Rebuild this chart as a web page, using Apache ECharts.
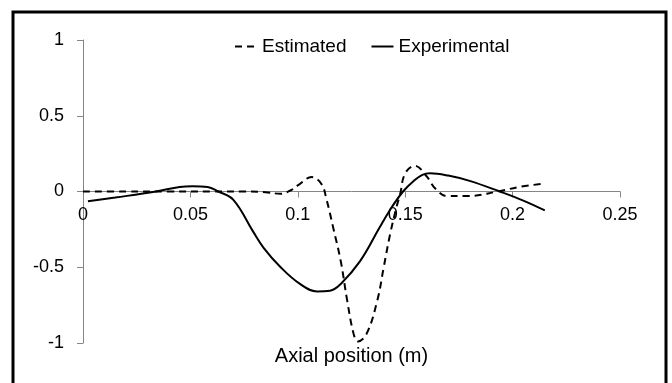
<!DOCTYPE html>
<html>
<head>
<meta charset="utf-8">
<script src="https://cdn.jsdelivr.net/npm/echarts@6/dist/echarts.min.js"></script>
<style>
  html, body { margin: 0; padding: 0; background: #fff; }
  #chart { width: 672px; height: 383px; }
</style>
</head>
<body>
<div id="chart"></div>
<script>
// values
const estX = [0, 0.02, 0.04, 0.06, 0.075, 0.085, 0.092, 0.097, 0.1, 0.1065, 0.111, 0.1135, 0.1165, 0.12, 0.123, 0.126, 0.128, 0.132, 0.137, 0.14, 0.143, 0.146, 0.1476, 0.15, 0.1545, 0.16, 0.164, 0.1695, 0.179, 0.193, 0.203, 0.2135]
const estY = [0, 0, 0, 0, 0, -0.005, -0.015, 0.01, 0.04, 0.095, 0.05, -0.06, -0.24, -0.46, -0.72, -0.94, -0.99, -0.94, -0.72, -0.5, -0.28, -0.1, -0.02, 0.12, 0.17, 0.1, 0.02, -0.03, -0.03, 0, 0.03, 0.05]

const expX = [0.0023, 0.015, 0.034, 0.045, 0.051, 0.058, 0.063, 0.07, 0.079, 0.084, 0.092, 0.101, 0.109, 0.115, 0.12, 0.129, 0.138, 0.143, 0.149, 0.154, 0.158, 0.1615, 0.17, 0.18, 0.194, 0.205, 0.215]
const expY = [-0.065, -0.04, 0, 0.03, 0.035, 0.03, 0, -0.055, -0.26, -0.37, -0.5, -0.61, -0.66, -0.655, -0.61, -0.46, -0.24, -0.12, 0, 0.07, 0.11, 0.12, 0.105, 0.07, 0, -0.06, -0.125]

const xTicks = { min: 0, max: 0.25, interval: 0.05 }
const yTicks = { min: -1, max: 1, interval: 0.5 }
const seriesNames = ['Estimated', 'Experimental']

const font = 'Liberation Sans, Arial, sans-serif'
const axisColor = '#868686'

function pairs(xs, ys) {
  return xs.map((x, i) => [x, ys[i]])
}

const chart = echarts.init(document.getElementById('chart'), null, { renderer: 'canvas' })

// grid is 303px tall for y in [-1, 1], so y = 0 sits 151.5px above the bottom edge
const zeroOffset = -151.5

chart.setOption({
  backgroundColor: '#fff',
  animation: false,
  textStyle: { fontFamily: font, color: '#000' },
  grid: { left: 83, right: 52, top: 40, bottom: 40, outerBoundsMode: 'none', containLabel: false },
  legend: {
    data: seriesNames,
    left: 229,
    top: 32,
    itemWidth: 22,
    itemHeight: 10,
    itemGap: 24,
    itemStyle: { opacity: 0 },
    textStyle: { fontFamily: font, fontSize: 19, color: '#000' },
  },
  graphic: [{
    type: 'rect',
    shape: { x: 13, y: 12, width: 653, height: 420 },
    style: { fill: 'none', stroke: '#000', lineWidth: 3 },
    silent: true,
  }],
  xAxis: {
    type: 'value',
    position: 'bottom',
    offset: zeroOffset,
    min: xTicks.min,
    max: xTicks.max,
    interval: xTicks.interval,
    name: 'Axial position (m)',
    nameLocation: 'middle',
    nameGap: 155,
    nameTextStyle: { fontFamily: font, fontSize: 20, color: '#000' },
    axisLine: { onZero: false, lineStyle: { color: axisColor, width: 1 } },
    axisTick: { show: true, inside: false, length: 6, lineStyle: { color: axisColor } },
    axisLabel: { fontFamily: font, fontSize: 18, color: '#000', margin: 15 },
    splitLine: { show: false },
  },
  yAxis: {
    type: 'value',
    min: yTicks.min,
    max: yTicks.max,
    interval: yTicks.interval,
    axisLine: { show: true, lineStyle: { color: axisColor, width: 1 } },
    axisTick: { show: true, inside: false, length: 6, lineStyle: { color: axisColor } },
    axisLabel: { fontFamily: font, fontSize: 18, color: '#000', margin: 19 },
    splitLine: { show: false },
  },
  series: [
    {
      name: seriesNames[0],
      type: 'line',
      data: pairs(estX, estY),
      smooth: 0.4,
      symbol: 'none',
      lineStyle: { color: '#000', width: 2, type: [7, 5] },
      itemStyle: { color: '#000' },
    },
    {
      name: seriesNames[1],
      type: 'line',
      data: pairs(expX, expY),
      smooth: 0.4,
      symbol: 'none',
      lineStyle: { color: '#000', width: 2, type: 'solid' },
      itemStyle: { color: '#000' },
    },
  ],
})
</script>
</body>
</html>
